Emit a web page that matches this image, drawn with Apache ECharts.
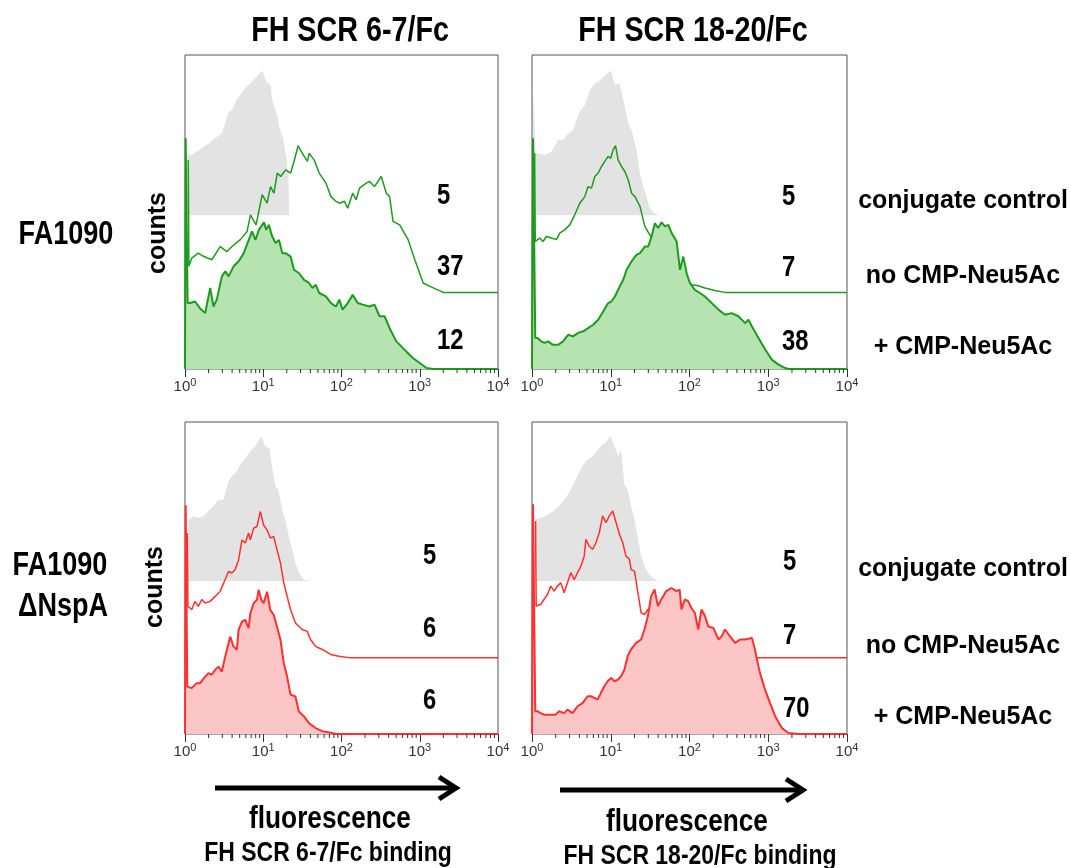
<!DOCTYPE html>
<html><head><meta charset="utf-8">
<script src="https://cdn.jsdelivr.net/npm/echarts@6/dist/echarts.min.js"></script>
<style>html,body{margin:0;padding:0;background:#fff}#c{width:1071px;height:868px}</style>
</head><body><div id="c"></div>
<script>
// ---------------- DATA ----------------
const panelTitles = ['FH SCR 6-7/Fc', 'FH SCR 18-20/Fc'];
const strainLabels = [['FA1090'], ['FA1090', 'ΔNspA']];
const traceLabels = ['conjugate control', 'no CMP-Neu5Ac', '+ CMP-Neu5Ac'];
const axisTitle = ['fluorescence', 'FH SCR 6-7/Fc binding', 'FH SCR 18-20/Fc binding'];
const xTickValues = [1, 10, 100, 1000, 10000];
// median fluorescence values printed in each panel (control, no CMP, + CMP)
const mfiWt67 = [5, 37, 12];
const mfiWt1820 = [5, 7, 38];
const mfiDn67 = [5, 6, 6];
const mfiDn1820 = [5, 7, 70];

// histograms: [fluorescence, counts (% of panel height above the trace baseline)]
const wt67Control = [[1.05,0],[1.1,19.6],[1.2,19.1],[1.5,20.7],[2,22.8],[2.5,24.7],[3,26.2],[3.6,32.9],[4,33.4],[4.6,37.1],[5,37.9],[6,40.8],[7,42.1],[8,43.8],[9,45.1],[9.7,46.0],[11,42.4],[12.4,41.4],[13,36.6],[15,31.8],[16,28.1],[18,24.4],[20,17.5],[21,11.1],[21.5,0]];
const wt67NoCmp = [[1.1,42.2],[1.12,8.3],[1.22,10.9],[1.48,12.5],[1.72,11.5],[2.2,10.4],[2.82,14.6],[3.44,13.0],[3.98,14.6],[5.1,16.8],[6.21,19.4],[6.86,24.7],[8.11,21.5],[9.69,31.1],[11.2,28.4],[12.4,33.7],[13.7,31.6],[15.1,38.0],[16.7,36.9],[19.3,39.0],[22.4,38.0],[24.7,41.7],[27.9,46.7],[31.6,44.3],[36.7,41.7],[38.5,44.3],[44.7,42.2],[51.9,38.0],[63.2,34.8],[73.3,30.5],[84.9,29.0],[93.8,28.4],[109,29.0],[120,26.8],[139,31.6],[154,29.5],[170,33.2],[207,34.8],[228,35.3],[264,33.7],[322,36.9],[374,31.6],[412,30.5],[455,22.6],[554,21.5],[710,16.8],[865,10.4],[1107,3.0],[1349,1.9],[2000,0],[10000,0]];
const wt67PlusCmp = [[1,0],[1.02,73.5],[1.06,73.5],[1.08,21.0],[1.16,21.0],[1.34,21.5],[1.56,19.3],[1.81,17.8],[2.1,25.8],[2.31,19.9],[2.55,22.1],[2.96,29.5],[3.27,31.1],[3.61,29.5],[4.18,32.7],[4.85,34.3],[5.63,36.9],[6.53,41.1],[7.2,43.8],[7.95,41.1],[8.78,44.3],[10.2,46.7],[10.9,44.3],[11.8,45.9],[13,42.2],[14.4,40.1],[15.9,41.1],[17.5,36.9],[19.3,36.9],[22.4,35.8],[24.7,31.6],[28.7,30.5],[33.2,28.4],[38.5,27.4],[42.5,25.8],[46.9,26.8],[51.9,24.2],[63.2,23.1],[73.3,21.0],[84.9,19.9],[93.8,22.1],[103,18.9],[120,21.0],[139,23.6],[161,21.0],[187,20.5],[228,19.9],[264,20.5],[306,16.8],[355,16.8],[412,13.0],[501,8.8],[672,5.6],[818,3.5],[1000,1.9],[1220,0.3],[1485,0],[10000,0]];

const wt1820Control = [[1.03,0],[1.04,40.8],[1.09,40.8],[1.11,19.6],[1.25,19.6],[1.45,19.1],[1.76,20.1],[2.14,23.9],[2.48,23.9],[2.87,26.0],[3.32,27.0],[3.66,30.2],[4.04,32.9],[4.68,35.0],[5.42,39.8],[6.27,41.9],[7.26,42.9],[8.41,44.5],[10,46.1],[11.3,41.4],[13,41.9],[15.1,34.5],[16.7,29.2],[18.4,27.0],[21.3,20.7],[23.5,13.3],[25.9,9.0],[28.5,5.8],[31.4,2.1],[36.4,0.5],[40.1,0]];
const wt1820NoCmp = [[1.08,44.3],[1.1,16.2],[1.14,16.2],[1.25,17.3],[1.38,16.2],[1.52,17.8],[1.76,17.3],[2.04,16.8],[2.25,18.9],[2.6,19.9],[3.02,21.5],[3.49,24.7],[4.04,28.4],[4.68,30.5],[5.16,33.7],[5.69,33.2],[6.27,36.9],[6.92,38.0],[7.62,40.1],[8.41,41.7],[9.27,43.3],[10,42.7],[10.7,45.4],[11.5,46.7],[12.4,42.2],[13.7,40.1],[15.1,38.5],[16.7,35.8],[18.4,31.6],[20.3,30.5],[23.5,27.4],[27.1,21.0],[33,17.3],[40.1,15.2],[48.6,12.5],[59.1,10.4],[71.6,8.3],[87,5.6],[106,2.4],[129,2.1],[157,1.4],[210,0.6],[282,0],[10000,0]];
const wt1820PlusCmp = [[1,0],[1.03,73.5],[1.08,73.5],[1.1,9.9],[1.17,9.9],[1.31,8.8],[1.45,8.3],[1.6,8.8],[1.85,7.7],[2.14,7.7],[2.48,8.8],[2.87,10.9],[3.32,10.4],[3.85,11.5],[4.46,12.0],[5.16,13.0],[5.97,14.1],[6.92,15.7],[8.01,18.3],[9.27,21.0],[10.2,21.5],[11.3,23.1],[13,26.3],[14.4,28.4],[15.9,31.6],[18.4,34.3],[21.3,36.4],[23.5,36.9],[27.1,39.0],[29.9,39.0],[33,42.2],[36.4,46.4],[40.1,44.9],[44.2,46.7],[48.8,45.4],[53.8,45.9],[59.3,43.3],[68.7,40.6],[75.7,31.6],[83.5,35.8],[92,30.5],[101,27.4],[117,25.2],[136,24.2],[157,23.1],[191,21.0],[233,18.9],[283,17.3],[344,17.8],[418,16.8],[508,14.6],[561,15.7],[618,13.6],[752,9.9],[914,6.2],[1111,3.0],[1350,1.4],[1641,0.3],[1810,0],[10000,0]];

const dn67Control = [[1.08,0],[1.1,19.7],[1.28,20.8],[1.48,20.3],[1.72,20.8],[1.99,22.4],[2.31,24.0],[2.68,26.1],[3.1,26.1],[3.6,32.0],[3.97,33.6],[4.6,35.2],[5.08,37.3],[5.89,39.4],[6.83,41.6],[7.91,43.2],[9.45,46.4],[10.6,43.2],[12,42.6],[12.9,36.8],[14.3,30.4],[15.8,28.8],[17.4,22.9],[19.2,19.7],[21.2,14.4],[23.4,10.1],[25.8,5.8],[28.5,2.7],[33,0.5],[40.2,0]];
const dn67NoCmp = [[1.07,40.0],[1.09,16.5],[1.14,16.5],[1.22,15.5],[1.34,18.1],[1.48,16.5],[1.64,18.7],[1.81,17.6],[2.09,18.1],[2.43,19.7],[2.81,21.3],[3.26,25.1],[3.6,27.7],[3.97,27.2],[4.38,28.3],[4.84,31.4],[5.34,37.8],[5.89,36.8],[6.5,40.0],[6.83,37.8],[7.54,41.6],[8.31,42.1],[9.18,46.9],[10.1,42.6],[11.2,41.0],[12.3,38.4],[13.6,38.9],[15,34.6],[16.6,30.4],[18.3,24.0],[20.2,19.7],[22.3,15.5],[25.8,11.2],[31.4,9.1],[36.4,8.5],[40.2,5.9],[46.6,3.7],[56.8,2.7],[72.6,1.1],[92.9,0.5],[131,0],[10000,0]];
const dn67PlusCmp = [[1,0],[1.02,73.3],[1.05,73.3],[1.07,15.2],[1.1,15.2],[1.22,14.7],[1.41,16.3],[1.56,16.3],[1.81,18.4],[1.99,19.5],[2.2,19.0],[2.43,20.6],[2.68,21.6],[2.96,20.0],[3.26,24.8],[3.6,29.1],[3.78,31.2],[4.17,28.0],[4.6,27.0],[4.84,33.4],[5.34,36.0],[5.89,36.6],[6.5,33.9],[6.83,38.7],[7.54,41.9],[8.31,43.0],[8.73,46.2],[9.45,43.0],[10.1,41.9],[11.2,45.6],[12.3,39.8],[13.6,38.2],[15,34.4],[16.6,30.2],[18.3,22.7],[20.2,18.4],[22.3,12.6],[25.8,12.0],[28.5,7.2],[33,5.7],[38.3,3.5],[46.6,1.9],[56.8,0.9],[76.1,0.3],[84.1,0],[10000,0]];

const dn1820Control = [[1.08,0],[1.11,19.8],[1.29,20.3],[1.49,20.9],[1.73,21.9],[2.1,23.5],[2.32,24.6],[2.69,26.7],[3.11,29.4],[3.43,31.6],[3.79,33.7],[4.38,36.9],[5.08,39.0],[5.6,39.6],[6.49,41.2],[7.51,43.3],[8.7,44.4],[9.88,46.5],[11.1,43.3],[12.5,40.1],[13.5,42.2],[14.9,31.0],[16.4,29.4],[18.1,24.1],[20,19.8],[22,14.4],[24.3,8.0],[26.8,4.8],[29.6,2.7],[34.2,1.1],[39.7,0]];
const dn1820NoCmp = [[1.11,43.9],[1.13,16.6],[1.17,16.6],[1.29,17.1],[1.42,18.7],[1.57,20.3],[1.73,23.0],[1.91,21.4],[2.1,23.0],[2.32,24.1],[2.56,20.9],[2.82,24.1],[3.11,27.3],[3.43,25.1],[3.79,27.3],[4.18,29.4],[4.6,32.6],[4.83,38.0],[5.33,35.8],[5.88,34.8],[6.49,36.9],[7.15,40.1],[7.89,45.5],[8.7,43.3],[9.59,45.5],[10.6,47.1],[11.7,43.3],[12.9,39.6],[14.2,36.9],[15.6,32.6],[17.3,31.6],[18.1,28.3],[20,27.8],[22,21.4],[24.3,14.4],[26.8,13.9],[29.6,15.5],[39.7,10.2],[64.7,4.8],[106,2.1],[172,0.7],[281,0.2],[678,0],[10000,0]];
const dn1820PlusCmp = [[1,0],[1.03,73.6],[1.08,73.6],[1.1,7.3],[1.17,7.3],[1.29,6.7],[1.42,6.2],[1.57,6.2],[1.73,6.2],[2,6.2],[2.21,7.3],[2.56,6.7],[2.82,7.8],[3.27,6.7],[3.79,8.9],[4.38,9.9],[5.08,12.1],[5.6,12.1],[6.18,11.6],[6.81,11.0],[7.51,13.2],[8.28,15.3],[9.13,16.9],[10.1,18.0],[11.1,16.9],[12.3,17.4],[13.5,18.5],[14.9,20.6],[16.4,24.9],[18.1,27.1],[21,29.2],[24.3,30.3],[26.8,33.5],[29.6,37.8],[32.6,44.2],[36,46.3],[39.7,41.0],[43.8,43.1],[50.7,45.8],[58.9,46.8],[68.3,45.8],[75,46.3],[79,39.9],[87.1,43.1],[96.1,42.6],[106,40.4],[117,38.8],[129,33.5],[142,39.9],[157,37.8],[173,34.5],[201,34.0],[233,30.3],[257,31.3],[282,33.5],[327,31.3],[379,29.2],[440,30.3],[510,30.3],[620,30.8],[678,27.1],[711,24.4],[785,19.6],[910,14.2],[1055,9.9],[1223,5.7],[1488,1.9],[1800,0.3],[2413,0],[10000,0]];

// ---------------- LAYOUT / STYLE ----------------
const CONTROL_BASE = 49;   // vertical offset of the control histogram (overlay)
const NOCMP_BASE = 24.4;   // vertical offset of the "no CMP" histogram
const FONT = '"Liberation Sans", Arial, sans-serif';
const NARROW = 0.82;

const panels = [
  {grid:{left:185, top:55, width:313, height:314}, traces:[wt67Control, wt67NoCmp, wt67PlusCmp], color:'#1c9c1c', fill:'#b5e4b0', mfi:mfiWt67, numX:437, numY:[196,267,341]},
  {grid:{left:532, top:55, width:315, height:314}, traces:[wt1820Control, wt1820NoCmp, wt1820PlusCmp], color:'#1c9c1c', fill:'#b5e4b0', mfi:mfiWt1820, numX:782, numY:[197,268,342]},
  {grid:{left:185, top:422, width:313, height:312}, traces:[dn67Control, dn67NoCmp, dn67PlusCmp], color:'#ff3030', fill:'#fcc6c6', mfi:mfiDn67, numX:423, numY:[556,629,701]},
  {grid:{left:532, top:422, width:315, height:312}, traces:[dn1820Control, dn1820NoCmp, dn1820PlusCmp], color:'#ff3030', fill:'#fcc6c6', mfi:mfiDn1820, numX:783, numY:[562,636,709]}
];

const minorTicks = [];
for (let d = 0; d < 4; d++) for (let k = 2; k <= 9; k++) minorTicks.push([k * Math.pow(10, d), 0]);

const grids = [], xAxes = [], yAxes = [], series = [];
panels.forEach((p, i) => {
  grids.push(Object.assign({show:true, borderColor:'#555', borderWidth:1, backgroundColor:'transparent'}, p.grid));
  xAxes.push({
    type:'log', logBase:10, min:xTickValues[0], max:xTickValues[xTickValues.length - 1], gridIndex:i,
    axisLine:{show:false},
    axisTick:{show:true, inside:false, length:8, lineStyle:{color:'#333', width:1}},
    splitLine:{show:false},
    axisLabel:{
      margin:8, color:'#333',
      formatter: v => '{b|10}{s|' + Math.round(Math.log10(v)) + '}',
      rich:{ b:{fontSize:15, fontFamily:FONT, color:'#333', lineHeight:20}, s:{fontSize:11, fontFamily:FONT, color:'#333', verticalAlign:'top', lineHeight:12} }
    }
  });
  yAxes.push({type:'value', min:0, max:100, gridIndex:i, show:false});
  const [ctrl, noCmp, plus] = p.traces;
  series.push({
    type:'line', xAxisIndex:i, yAxisIndex:i, data: ctrl.map(d => [d[0], d[1] + CONTROL_BASE]),
    showSymbol:false, symbol:'none', lineStyle:{width:0}, areaStyle:{color:'#e3e3e3', opacity:1, origin:CONTROL_BASE},
    silent:true, animation:false, z:1
  });
  series.push({
    type:'line', xAxisIndex:i, yAxisIndex:i, data: noCmp.map(d => [d[0], d[1] + NOCMP_BASE]),
    showSymbol:false, symbol:'none', lineStyle:{width:1.5, color:p.color}, silent:true, animation:false, z:2
  });
  series.push({
    type:'line', xAxisIndex:i, yAxisIndex:i, data: plus,
    showSymbol:false, symbol:'none', lineStyle:{width:2, color:p.color}, areaStyle:{color:p.fill, opacity:1, origin:0},
    silent:true, animation:false, z:3
  });
  series.push({
    type:'custom', xAxisIndex:i, yAxisIndex:i, data: minorTicks, clip:false, silent:true, animation:false, z:5,
    renderItem:(params, api) => {
      const pt = api.coord([api.value(0), 0]);
      return {type:'line', shape:{x1:pt[0], y1:pt[1], x2:pt[0], y2:pt[1] + 4}, style:{stroke:'#333', lineWidth:1}};
    }
  });
});

// ---------------- TEXT ----------------
const graphic = [];
function txt(text, x, y, size, opts) {
  opts = opts || {};
  graphic.push({
    type:'text', x:x, y:y, scaleX: opts.narrow ? NARROW : 1, rotation: opts.rot || 0, z:100, silent:true,
    style:{text:text, fill:'#000', fontSize:size, fontWeight:'bold', fontFamily:FONT,
      align: opts.align || 'center', textAlign: opts.align || 'center', verticalAlign:'middle', textVerticalAlign:'middle'}
  });
}
txt(panelTitles[0], 350, 31, 35, {narrow:true});
txt(panelTitles[1], 693, 31, 35, {narrow:true});
txt(strainLabels[0][0], 66, 235, 33, {narrow:true});
txt(strainLabels[1][0], 60, 566, 33, {narrow:true});
txt(strainLabels[1][1], 63, 607, 33, {narrow:true});
txt('counts', 158, 233, 25, {rot:Math.PI/2});
txt('counts', 155, 587, 25, {rot:Math.PI/2});
[[201,276,347],[569,646,717]].forEach(ys => ys.forEach((y, k) => txt(traceLabels[k], 963, y, 25)));
panels.forEach(p => p.mfi.forEach((v, k) => txt(String(v), p.numX, p.numY[k], 29, {narrow:true, align:'left'})));
txt(axisTitle[0], 330, 819, 32, {narrow:true});
txt(axisTitle[1], 328, 853, 28, {narrow:true});
txt(axisTitle[0], 687, 822, 32, {narrow:true});
txt(axisTitle[2], 700, 856, 28, {narrow:true});
function arrow(x1, x2, y) {
  graphic.push({type:'line', shape:{x1:x1, y1:y, x2:x2 - 3, y2:y}, style:{stroke:'#000', lineWidth:5}, silent:true});
  graphic.push({type:'polyline', shape:{points:[[x2 - 17, y - 11], [x2, y], [x2 - 17, y + 11]]}, style:{stroke:'#000', lineWidth:5, fill:null, lineJoin:'miter'}, silent:true});
}
arrow(215, 456, 788);
arrow(560, 803, 790);

const chart = echarts.init(document.getElementById('c'));
chart.setOption({
  animation:false, backgroundColor:'#fff',
  textStyle:{fontFamily:FONT},
  grid:grids, xAxis:xAxes, yAxis:yAxes, series:series, graphic:graphic
});
</script></body></html>
